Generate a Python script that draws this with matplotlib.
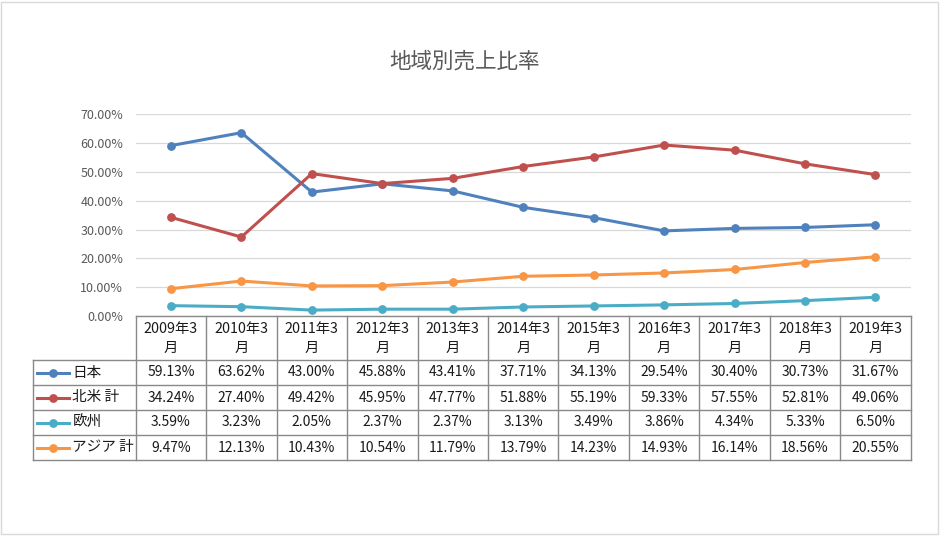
import matplotlib
matplotlib.use("Agg")
import matplotlib.pyplot as plt
from matplotlib.patches import Rectangle
from matplotlib.ticker import FuncFormatter

plt.rcParams['font.family'] = ['Noto Sans CJK JP', 'DejaVu Sans']

# data
categories = ['2009年3\n月', '2010年3\n月', '2011年3\n月', '2012年3\n月', '2013年3\n月', '2014年3\n月',
              '2015年3\n月', '2016年3\n月', '2017年3\n月', '2018年3\n月', '2019年3\n月']
japan = [59.13, 63.62, 43.00, 45.88, 43.41, 37.71, 34.13, 29.54, 30.40, 30.73, 31.67]
north_america = [34.24, 27.40, 49.42, 45.95, 47.77, 51.88, 55.19, 59.33, 57.55, 52.81, 49.06]
europe = [3.59, 3.23, 2.05, 2.37, 2.37, 3.13, 3.49, 3.86, 4.34, 5.33, 6.50]
asia = [9.47, 12.13, 10.43, 10.54, 11.79, 13.79, 14.23, 14.93, 16.14, 18.56, 20.55]

series_names = ['日本', '北米 計', '欧州', 'アジア 計']
series_values = [japan, north_america, europe, asia]
colors = ['#4F81BD', '#C0504D', '#4BACC6', '#F79646']

W, H = 941, 536
fig = plt.figure(figsize=(W / 100, H / 100), dpi=100)

# layout in pixels
x0, x1 = 135.7, 910.7
y_zero, y_top = 316, 114.3
n = len(categories)
colw = (x1 - x0) / n

ax = fig.add_axes([x0 / W, 1 - y_zero / H, (x1 - x0) / W, (y_zero - y_top) / H])
ax.set_xlim(-0.5, n - 0.5)
ax.set_ylim(0, 70)
ax.set_yticks(range(0, 71, 10))
ax.yaxis.set_major_formatter(FuncFormatter(lambda v, p: f'{v:.2f}%'))
ax.tick_params(axis='y', length=0, labelsize=9, labelcolor='#595959', pad=9)
ax.set_xticks([])
for s in ax.spines.values():
    s.set_visible(False)
ax.grid(axis='y', color='#D9D9D9', linewidth=0.9)
ax.set_axisbelow(True)

xs = list(range(n))
for vals, c in zip(series_values, colors):
    ax.plot(xs, vals, color=c, linewidth=2.2, marker='o', markersize=5.3, clip_on=False, zorder=3)

fig.text(465 / W, 1 - 62 / H, '地域別売上比率', ha='center', va='center', fontsize=15.5, color='#595959')

# data table drawn on an overlay axes in pixel coordinates
ov = fig.add_axes([0, 0, 1, 1])
ov.set_xlim(0, W)
ov.set_ylim(H, 0)
ov.axis('off')

grid_c = '#898989'
txt_c = '#1a1a1a'
row_y = [316, 360, 385, 410, 435, 460]
left = 33.5
ov.plot([x0, x1], [row_y[0], row_y[0]], color=grid_c, lw=1)
for y in row_y[1:]:
    ov.plot([left, x1], [y, y], color=grid_c, lw=1)
ov.plot([left, left], [row_y[1], row_y[-1]], color=grid_c, lw=1)
for i in range(n + 1):
    xv = x0 + i * colw
    ov.plot([xv, xv], [row_y[0], row_y[-1]], color=grid_c, lw=1)

for i, cat in enumerate(categories):
    cx = x0 + (i + 0.5) * colw
    top_line, bottom_line = cat.split('\n')
    ov.text(cx, 328.5, top_line, ha='center', va='center', fontsize=10.3, color=txt_c)
    ov.text(cx, 348, bottom_line, ha='center', va='center', fontsize=10.3, color=txt_c)

for r, (name, vals, c) in enumerate(zip(series_names, series_values, colors)):
    cy = (row_y[r + 1] + row_y[r + 2]) / 2
    ov.plot([37, 69], [cy, cy], color=c, lw=2.2)
    ov.plot([53], [cy], marker='o', color=c, markersize=5.3)
    ov.text(72.5, cy, name, ha='left', va='center', fontsize=10.5, color=txt_c)
    for i, v in enumerate(vals):
        cx = x0 + (i + 0.5) * colw
        ov.text(cx, cy, f'{v:.2f}%', ha='center', va='center', fontsize=10, color=txt_c)

# chart border
ov.add_patch(Rectangle((1, 1.5), 937, 532.5, fill=False, edgecolor='#D9D9D9', lw=1))

fig.savefig('out.png', dpi=100, facecolor='white')
